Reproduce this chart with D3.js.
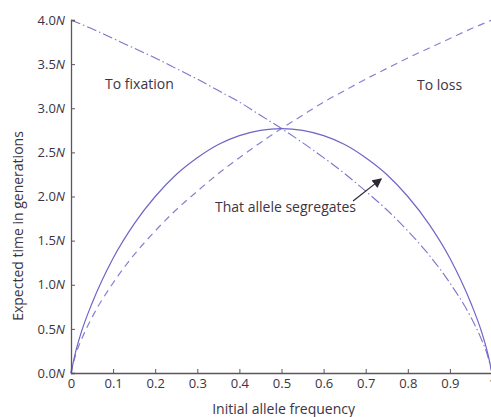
<!DOCTYPE html>
<html lang="en">
<head>
    <meta charset="UTF-8">
    <title>Expected time in generations</title>
    <script src="https://d3js.org/d3.v7.min.js"></script>
    <style>
        body {
            margin: 0;
            background-color: #fff;
            font-family: "Open Sans", Arial, sans-serif;
        }
        .axis path, .axis line {
            stroke: #5b5560;
        }
        .axis text {
            fill: #3c3442;
            font-size: 13px;
            font-family: "Open Sans", Arial, sans-serif;
        }
        .label {
            fill: #3c3442;
            font-size: 14px;
        }
    </style>
</head>
<body>
    <svg id="chart" width="491" height="417"></svg>
    <script>
        // initial allele frequency p
        const freq = [0, 0.01, 0.025, 0.05, 0.1, 0.15, 0.2, 0.25, 0.3, 0.35, 0.4, 0.45, 0.5,
                      0.55, 0.6, 0.65, 0.7, 0.75, 0.8, 0.85, 0.9, 0.95, 0.975, 0.99, 1];
        // expected times, in units of N
        const toFixation = [4.0, 3.98, 3.95, 3.90, 3.79, 3.68, 3.57, 3.45, 3.33, 3.20, 3.07, 2.92, 2.77,
                            2.61, 2.44, 2.26, 2.06, 1.85, 1.61, 1.34, 1.02, 0.63, 0.38, 0.19, 0];
        const toLoss = [0, 0.19, 0.38, 0.63, 1.02, 1.34, 1.61, 1.85, 2.06, 2.26, 2.44, 2.61, 2.77,
                        2.92, 3.07, 3.20, 3.33, 3.45, 3.57, 3.68, 3.79, 3.90, 3.95, 3.98, 4.0];
        const segregates = [0, 0.22, 0.47, 0.79, 1.30, 1.69, 2.00, 2.25, 2.44, 2.59, 2.69, 2.75, 2.77,
                            2.75, 2.69, 2.59, 2.44, 2.25, 2.00, 1.69, 1.30, 0.79, 0.47, 0.22, 0];

        const xTicks = [0, 0.1, 0.2, 0.3, 0.4, 0.5, 0.6, 0.7, 0.8, 0.9, 1];
        const yTicks = [0, 0.5, 1.0, 1.5, 2.0, 2.5, 3.0, 3.5, 4.0];

        const margin = { top: 20, right: -1, bottom: 44, left: 71 };
        const width = 491 - margin.left - margin.right;
        const height = 417 - margin.top - margin.bottom;

        const svg = d3.select("#chart")
            .append("g")
            .attr("transform", `translate(${margin.left}, ${margin.top})`);

        const x = d3.scaleLinear().domain([0, 1]).range([0, width]);
        const y = d3.scaleLinear().domain([0, 4]).range([height, 0]);

        const line = vals => d3.line()
            .x((d, i) => x(freq[i]))
            .y(d => y(d))
            .curve(d3.curveMonotoneX)(vals);

        svg.append("path")
            .attr("d", line(toFixation))
            .attr("fill", "none")
            .attr("stroke", "#7d74cc")
            .attr("stroke-width", 1.1)
            .attr("stroke-dasharray", "10,3,1.5,3");

        svg.append("path")
            .attr("d", line(toLoss))
            .attr("fill", "none")
            .attr("stroke", "#8880d2")
            .attr("stroke-width", 1.2)
            .attr("stroke-dasharray", "7,5");

        svg.append("path")
            .attr("d", line(segregates))
            .attr("fill", "none")
            .attr("stroke", "#6e65c6")
            .attr("stroke-width", 1.2);

        // axes (ticks point inward)
        const xAxis = svg.append("g").attr("class", "axis")
            .attr("transform", `translate(0, ${height})`)
            .call(d3.axisBottom(x).tickValues(xTicks).tickSize(-4).tickPadding(6)
                .tickFormat(d => d === 0 ? "0" : d === 1 ? "1" : d3.format(".1f")(d)));
        xAxis.select(".domain").attr("stroke-width", 1.3);

        const yAxis = svg.append("g").attr("class", "axis")
            .call(d3.axisLeft(y).tickValues(yTicks).tickSize(-4).tickPadding(6)
                .tickFormat(d => ""));
        yAxis.select(".domain").attr("stroke-width", 1.3);
        yAxis.selectAll(".tick text")
            .each(function(d) {
                const t = d3.select(this);
                t.append("tspan").text(d3.format(".1f")(d));
                t.append("tspan").attr("font-style", "italic").text("N");
            });

        // axis titles
        svg.append("text")
            .attr("class", "label")
            .attr("text-anchor", "middle")
            .attr("x", x(0.505))
            .attr("y", height + 41)
            .text("Initial allele frequency");

        svg.append("text")
            .attr("class", "label")
            .attr("text-anchor", "middle")
            .attr("transform", `translate(-48, 206) rotate(-90)`)
            .text("Expected time in generations");

        // curve labels
        svg.append("text").attr("class", "label")
            .attr("x", x(0.081)).attr("y", y(3.22))
            .text("To fixation");

        svg.append("text").attr("class", "label")
            .attr("x", x(0.822)).attr("y", y(3.21))
            .text("To loss");

        svg.append("text").attr("class", "label")
            .attr("x", x(0.342)).attr("y", y(1.82))
            .text("That allele segregates");

        svg.append("defs").append("marker")
            .attr("id", "arrow")
            .attr("viewBox", "0 0 10 10")
            .attr("refX", 9).attr("refY", 5)
            .attr("markerWidth", 8).attr("markerHeight", 8)
            .attr("orient", "auto")
            .append("path")
            .attr("d", "M0,0 L10,5 L0,10 z")
            .attr("fill", "#2e2836");

        svg.append("line")
            .attr("x1", x(0.67)).attr("y1", y(1.95))
            .attr("x2", x(0.737)).attr("y2", y(2.2))
            .attr("stroke", "#2e2836")
            .attr("stroke-width", 1.2)
            .attr("marker-end", "url(#arrow)");
    </script>
</body>
</html>
